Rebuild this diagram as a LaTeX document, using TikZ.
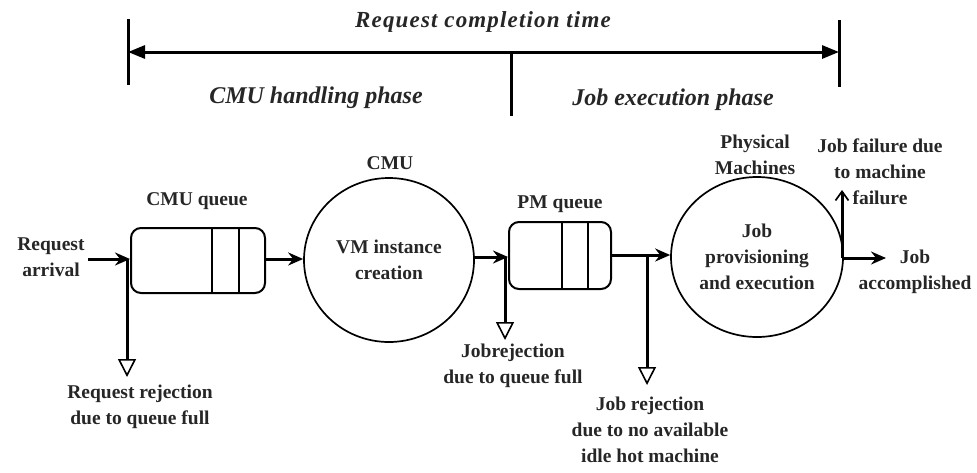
\documentclass[tikz,border=0pt]{standalone}
\usepackage{fontspec}
\setmainfont{Liberation Serif}
\usetikzlibrary{shapes.geometric,arrows.meta,calc}

\tikzset{
  lbl/.style={font=\fontsize{19.5}{26}\selectfont\bfseries, align=center, inner sep=0pt, text=black!85},
  phase/.style={font=\fontsize{24}{28}\selectfont\bfseries\itshape, inner sep=0pt, text=black!85},
  queue/.style={draw, line width=2pt, rounded corners=10pt, inner sep=0pt},
  server/.style={draw, ellipse, line width=1.7pt, inner sep=0pt, align=center,
    font=\fontsize{19.5}{26}\selectfont\bfseries, text=black!85},
  flow/.style={line width=3pt, -{Stealth[length=15pt,width=13pt,inset=5pt]}},
  reject/.style={line width=3pt, -{Triangle[open,length=18pt,width=18pt,line width=1.6pt]}},
  fail/.style={line width=3pt, -{Straight Barb[length=9pt,width=13pt,line width=1.7pt]}},
  timeline/.style={line width=3pt, {Triangle[length=17pt,width=13pt]}-{Triangle[length=17pt,width=13pt]}},
  tick/.style={line width=3pt},
  slot/.style={line width=1.8pt}
}

\begin{document}
\begin{tikzpicture}[x=1pt,y=-1pt]
\useasboundingbox (0,0) rectangle (977,472);

% time span across the top
\coordinate (tl) at (128,52);
\coordinate (tr) at (839,52);
\coordinate (tm) at (511,52);
\draw[timeline] (tl) -- (tr);
\draw[tick] (128,19) -- (128,85);
\draw[tick] (839,20) -- (839,87);
\draw[tick] (tm) -- (511,116);
\node[phase, font=\fontsize{23}{26}\selectfont\bfseries\itshape\addfontfeatures{LetterSpace=5}] (title) at (483,22) {Request completion time};
\node[phase] (ph1) at (316,98) {CMU handling phase};
\node[phase] (ph2) at (673,100) {Job execution phase};

% queues
\node[queue, minimum width=134pt, minimum height=65pt] (cq) at (198,260.5) {};
\draw[slot] (212,228) -- (212,293);
\draw[slot] (239,228) -- (239,293);
\node[lbl] (cqlab) at (197,201) {CMU queue};

\node[queue, minimum width=102pt, minimum height=67pt] (pq) at (560,255.5) {};
\draw[slot] (562,222) -- (562,289);
\draw[slot] (588,222) -- (588,289);
\node[lbl] (pqlab) at (560,204) {PM queue};

% servers
\node[server, minimum width=170pt, minimum height=164pt] (cmu) at (389,260) {VM instance\\creation};
\node[lbl] (cmulab) at (390,163) {CMU};

\node[server, minimum width=172pt, minimum height=160pt] (pm) at (757,257) {Job\\provisioning\\and execution};
\node[lbl] (pmlab) at (755,155) {Physical\\Machines};

% incoming requests
\node[lbl] (arr) at (51,257) {Request\\arrival};
\coordinate (a0) at (88,259);
\draw[flow] (a0) -- (a0 -| cq.west);
\coordinate (b1) at (127,259);
\coordinate (e1) at (127,377);
\draw[reject] (b1) -- (e1);
\node[lbl] (rej1) at (140,407) {Request rejection\\due to queue full};

% CMU queue to CMU
\coordinate (c0) at (cq.east |- 0,259);
\draw[flow] (c0) -- (c0 -| cmu.west);

% CMU to PM queue
\coordinate (d0) at (cmu.east |- 0,257);
\draw[flow] (d0) -- (d0 -| pq.west);
\coordinate (b2) at (505,257);
\coordinate (e2) at (505,340);
\draw[reject] (b2) -- (e2);
\node[lbl] (rej2) at (513,366) {Jobrejection\\due to queue full};

% PM queue to physical machines
\coordinate (f0) at (pq.east |- 0,255);
\draw[flow] (f0) -- (f0 -| pm.west);
\coordinate (b3) at (647,255);
\coordinate (e3) at (647,385);
\draw[reject] (b3) -- (e3);
\node[lbl] (rej3) at (650,430) {Job rejection\\due to no available\\idle hot machine};

% outcomes
\coordinate (g0) at (pm.east |- 0,258);
\coordinate (g1) at (886,258);
\coordinate (g2) at (842,190);
\draw[flow] (g0) -- (g1);
\draw[fail] (842,258) -- (g2);
\node[lbl] (done) at (915,272) {Job\\accomplished};
\node[lbl] (failtxt) at (880,172) {Job failure due\\to machine\\failure};
\end{tikzpicture}
\end{document}
